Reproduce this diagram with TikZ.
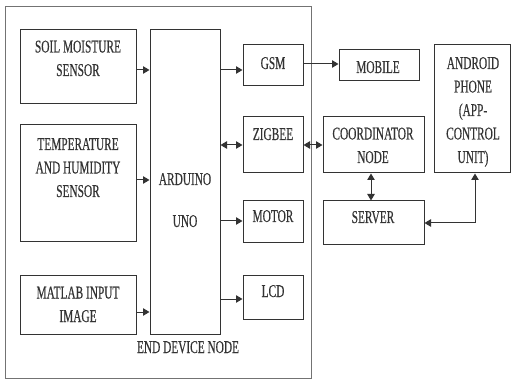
\documentclass[tikz,border=0pt]{standalone}
\usepackage{fontspec}
\setmainfont{Liberation Serif}[FakeStretch=0.63,FakeBold=0.4]
\usetikzlibrary{arrows.meta}
\definecolor{linecol}{gray}{0.2}
\definecolor{framecol}{gray}{0.45}
\begin{document}
\begin{tikzpicture}[x=1pt,y=-1pt,
  box/.style={draw=linecol,line width=1pt,inner sep=0pt,rectangle},
  txt/.style={font=\fontsize{18}{23.5}\selectfont,align=center,anchor=base,inner sep=0pt,text=black!80},
  arr/.style={draw=linecol,line width=1pt,-{Triangle[length=6.5pt,width=7.5pt]}},
  darr/.style={draw=linecol,line width=1pt,{Triangle[length=6.5pt,width=7.5pt]}-{Triangle[length=6.5pt,width=7.5pt]}}]
\useasboundingbox (0,0) rectangle (511,379);
% outer frame
\node[draw=framecol,line width=0.9pt,inner sep=0pt,minimum width=306pt,minimum height=372pt] (frame) at (158,192) {};
% boxes
\node[box,minimum width=116pt,minimum height=74pt] (soil) at (78,67) {};
\node[box,minimum width=116pt,minimum height=117pt] (temp) at (78,183.5) {};
\node[box,minimum width=116pt,minimum height=59pt] (matlab) at (78,304.5) {};
\node[box,minimum width=70pt,minimum height=304pt] (ard) at (185,182) {};
\node[box,minimum width=60pt,minimum height=41pt] (gsm) at (273,65.5) {};
\node[box,minimum width=60pt,minimum height=56pt] (zig) at (273,145) {};
\node[box,minimum width=60pt,minimum height=42pt] (motor) at (273,222) {};
\node[box,minimum width=60pt,minimum height=44pt] (lcd) at (273,297) {};
\node[box,minimum width=80pt,minimum height=31pt] (mobile) at (379,65.5) {};
\node[box,minimum width=101pt,minimum height=56pt] (coord) at (373.5,145) {};
\node[box,minimum width=101pt,minimum height=44pt] (server) at (373.5,223) {};
\node[box,minimum width=76pt,minimum height=128pt] (android) at (472,109) {};
% texts (anchor = baseline of last line)
\node[txt] (tsoil) at (78,76) {SOIL MOISTURE\\SENSOR};
\node[txt] (ttemp) at (78,197) {TEMPERATURE\\AND HUMIDITY\\SENSOR};
\node[txt] (tmat) at (78,322) {MATLAB INPUT\\IMAGE};
\node[txt] (tard) at (185,227) {ARDUINO\\[18.5pt]UNO};
\node[txt] (tend) at (188,353) {END DEVICE NODE};
\node[txt] (tgsm) at (273,69) {GSM};
\node[txt] (tzig) at (273,140) {ZIGBEE};
\node[txt] (tmot) at (273,222) {MOTOR};
\node[txt] (tlcd) at (273,297) {LCD};
\node[txt] (tmob) at (378,73) {MOBILE};
\node[txt] (tcoord) at (373,163) {COORDINATOR\\NODE};
\node[txt] (tserv) at (373,223) {SERVER};
\node[txt] (tand) at (473,163) {ANDROID\\PHONE\\(APP-\\CONTROL\\UNIT)};
% connectors
\draw[arr] ([yshift=-3pt]soil.east) -- ([yshift=-3pt]soil.east -| ard.west);
\draw[arr] ([yshift=3.5pt]temp.east) -- ([yshift=3.5pt]temp.east -| ard.west);
\draw[arr] ([yshift=-7.5pt]matlab.east) -- ([yshift=-7.5pt]matlab.east -| ard.west);
\draw[arr] ([yshift=-4.5pt]gsm.west -| ard.east) -- ([yshift=-4.5pt]gsm.west);
\draw[darr] (zig.west -| ard.east) -- (zig.west);
\draw[arr] ([yshift=1pt]motor.west -| ard.east) -- ([yshift=1pt]motor.west);
\draw[arr] ([yshift=-2pt]lcd.west -| ard.east) -- ([yshift=-2pt]lcd.west);
\draw[arr] ([yshift=1.5pt]gsm.east) -- ([yshift=1.5pt]gsm.east -| mobile.west);
\draw[darr] (zig.east) -- (coord.west);
\draw[darr] ([xshift=-2.5pt]coord.south) -- ([xshift=-2.5pt]server.north);
\draw[darr] (server.east) -| ([xshift=3pt]android.south);
\end{tikzpicture}
\end{document}
